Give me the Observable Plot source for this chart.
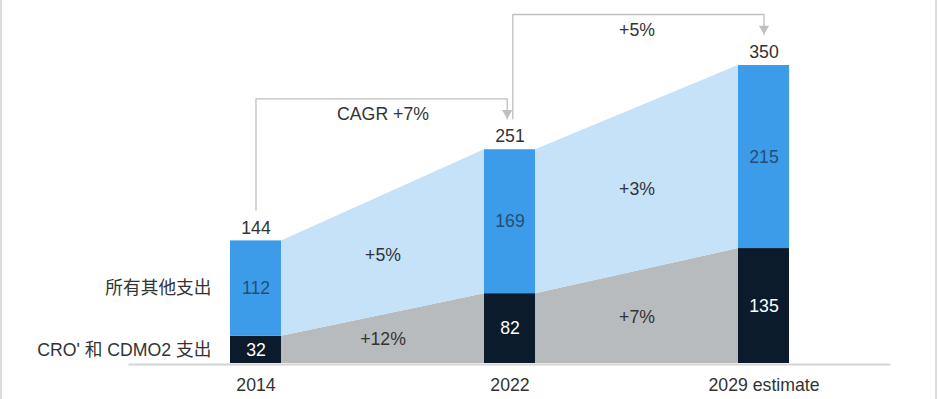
<!DOCTYPE html>
<html><head><meta charset="utf-8">
<script src="https://cdn.jsdelivr.net/npm/d3@7"></script>
<script src="https://cdn.jsdelivr.net/npm/@observablehq/plot@0.6"></script>
<style>
body{margin:0;background:#fff;}
#wrap{position:relative;width:938px;height:399px;overflow:hidden;background:#fff;}
.edge{position:absolute;top:0;bottom:0;background:#dcdcdc;}
#wrap svg{display:block;}
</style></head><body>
<div id="wrap"></div>
<script>
// ---- data ----
const years = ["2014", "2022", "2029 estimate"];
const croCdmo = [32, 82, 135];
const otherSpend = [112, 169, 215];
const totals = [144, 251, 350];
const seriesNames = ["所有其他支出", "CRO' 和 CDMO2 支出"];
const otherGrowth = ["+5%", "+3%"];
const croGrowth = ["+12%", "+7%"];
const cagrLabels = ["CAGR +7%", "+5%"];

// ---- derived tables ----
const hw = 0.1004;            // half bar width in index units
const gLabel = 36.4;          // gap above totals for bracket ends (value units)
const gTop = 59.9;            // bracket top above end total (value units)
const nudge = 0.011;          // small horizontal separation of bracket ends

const idx = years.map((_, i) => i);
const bars = idx.flatMap(i => [
  {i, s: "cro", lo: 0, hi: croCdmo[i], v: croCdmo[i]},
  {i, s: "other", lo: croCdmo[i], hi: croCdmo[i] + otherSpend[i], v: otherSpend[i]}
]);
const areaPts = idx.flatMap(i => {
  const p = {cro: croCdmo[i], total: totals[i]};
  const out = [];
  if (i > 0) out.push({x: i - hw, ...p});
  if (i < idx.length - 1) out.push({x: i + hw, ...p});
  return out;
});
const segs = idx.slice(0, -1).map(i => ({
  x: i + 0.5,
  other: otherGrowth[i],
  cro: croGrowth[i],
  yOther: ((croCdmo[i] + croCdmo[i + 1]) / 2 + (totals[i] + totals[i + 1]) / 2) / 2,
  yCro: (croCdmo[i] + croCdmo[i + 1]) / 4,
  cagr: cagrLabels[i],
  top: totals[i + 1] + gTop
}));
const bracketPts = idx.slice(0, -1).flatMap(i => {
  const x0 = i === 0 ? i : i + nudge;
  const x1 = i + 1 === idx.length - 1 ? i + 1 : i + 1 - nudge;
  const top = totals[i + 1] + gTop;
  return [
    {b: i, x: x0, y: totals[i] + gLabel},
    {b: i, x: x0, y: top},
    {b: i, x: x1, y: top},
    {b: i, x: x1, y: totals[i + 1] + gLabel}
  ];
});
const arrowPts = bracketPts.filter((d, k) => k % 4 === 3);

const BLUE = "#3d9ce9", NAVY = "#0c1b2c", LIGHT = "#c5e2f8", GREY = "#b8bbbe";
const TXT = "#333333", LINE = "#bfbfbf";

const chart = Plot.plot({
  width: 938,
  height: 399,
  x: {domain: [0, 2], range: [255.5, 763.5], axis: null},
  y: {domain: [0, 350], range: [363, 65], axis: null},
  style: {fontFamily: "'Liberation Sans', Arial, 'Noto Sans CJK SC', sans-serif", fontSize: "17.7px", color: TXT, background: "transparent", overflow: "visible"},
  marks: [
    Plot.areaY(areaPts, {x: "x", y1: 0, y2: "cro", fill: GREY}),
    Plot.areaY(areaPts, {x: "x", y1: "cro", y2: "total", fill: LIGHT}),
    Plot.rect(bars.filter(d => d.s === "cro"), {x1: d => d.i - hw, x2: d => d.i + hw, y1: "lo", y2: "hi", fill: NAVY}),
    Plot.rect(bars.filter(d => d.s === "other"), {x1: d => d.i - hw, x2: d => d.i + hw, y1: "lo", y2: "hi", fill: BLUE}),
    Plot.text(bars.filter(d => d.s === "cro"), {x: "i", y: d => (d.lo + d.hi) / 2, text: d => String(d.v), fill: "white"}),
    Plot.text(bars.filter(d => d.s === "other"), {x: "i", y: d => (d.lo + d.hi) / 2, text: d => String(d.v), fill: "#234e78"}),
    Plot.text(idx, {x: d => d, y: d => totals[d], text: d => String(totals[d]), dy: -13, fill: TXT}),
    Plot.text(segs, {x: "x", y: "yOther", text: "other", fill: TXT}),
    Plot.text(segs, {x: "x", y: "yCro", text: "cro", fill: TXT}),
    Plot.ruleY([0], {x1: -0.5, x2: 2.5, stroke: "#d4d4d4", strokeWidth: 2, dy: 1}),
    Plot.text(idx, {x: d => d, y: 0, text: d => years[d], dy: 22, fill: TXT}),
    Plot.text([0], {x: 0, y: otherSpend.length ? croCdmo[0] + otherSpend[0] / 2 : 0, text: () => seriesNames[0], textAnchor: "end", dx: -44.5, fill: TXT}),
    Plot.text([0], {x: 0, y: croCdmo[0] / 2, text: () => seriesNames[1], textAnchor: "end", dx: -44.5, fill: TXT}),
    Plot.line(bracketPts, {x: "x", y: "y", z: "b", stroke: LINE, strokeWidth: 1.3}),
    Plot.dot(arrowPts, {x: "x", y: "y", symbol: "triangle", r: 3.8, fill: LINE, stroke: null, rotate: 180, dy: -5.8}),
    Plot.text(segs, {x: "x", y: "top", text: "cagr", dy: 15.5, fill: TXT})
  ]
});
const wrap = document.getElementById("wrap");
wrap.appendChild(chart);
const e1 = document.createElement("div"); e1.className = "edge"; e1.style.left = "0px"; e1.style.width = "2px";
const e2 = document.createElement("div"); e2.className = "edge"; e2.style.left = "935px"; e2.style.width = "2px";
wrap.appendChild(e1); wrap.appendChild(e2);
</script>
</body></html>
